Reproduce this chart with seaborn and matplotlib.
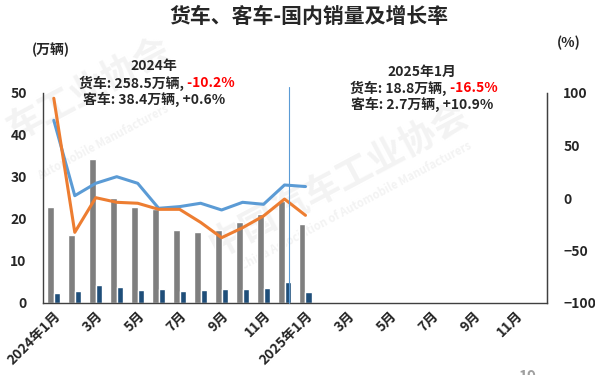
import pandas as pd
import numpy as np
import matplotlib
matplotlib.use('Agg')
import matplotlib.pyplot as plt
import seaborn as sns

# 2024-01 .. 2025-12 (only 2024-01 .. 2025-01 have data)
months = [f'{y}-{m:02d}' for y in (2024, 2025) for m in range(1, 13)]
tick_labels = ['2024年1月', '3月', '5月', '7月', '9月', '11月',
               '2025年1月', '3月', '5月', '7月', '9月', '11月']

truck_sales = [22.8, 16.3, 34.2, 24.9, 22.8, 22.4, 17.3, 17.0, 17.3, 19.2, 21.1, 24.3, 18.8]
bus_sales = [2.5, 2.8, 4.2, 3.7, 3.2, 3.3, 2.8, 3.0, 3.3, 3.3, 3.6, 5.1, 2.7]
truck_growth = [95, -32.7, 0.3, -4.1, -5, -10.8, -10.8, -23.2, -37.8, -28.3, -17.1, -1, -16.5]
bus_growth = [74, 2.2, 14, 20.3, 14, -9.8, -8.2, -5, -11.4, -4.1, -6, 12.4, 10.9]

n = len(truck_sales)
bars = pd.DataFrame({
    'month': months[:n] * 2,
    'sales': truck_sales + bus_sales,
    'kind': ['货车'] * n + ['客车'] * n,
})

sns.set_style('white')
plt.rcParams['font.family'] = ['Noto Sans CJK SC', 'DejaVu Sans']
plt.rcParams['font.weight'] = 'bold'

fig = plt.figure(figsize=(5.95, 3.75), dpi=100)
ax = fig.add_axes([0.0728, 0.192, 0.846, 0.56])
ax.patch.set_visible(False)

# faint watermark, behind everything
wm = dict(color='#f3f3f3', rotation=28, ha='left', va='center', zorder=-10)
fig.text(0.0, 0.76, '车工业协会', fontsize=26, **wm)
fig.text(0.34, 0.52, '中国汽车工业协会', fontsize=26, **wm)
fig.text(0.40, 0.45, 'China Association of Automobile Manufacturers', fontsize=8, **wm)
fig.text(0.06, 0.62, 'Automobile Manufacturers', fontsize=8, **wm)

sns.barplot(data=bars, x='month', y='sales', hue='kind', order=months,
            hue_order=['货车', '客车'], palette=['#7f7f7f', '#1f4e79'],
            width=0.62, saturation=1, legend=False, ax=ax)
ax.set_ylim(0, 50)
ax.set_xlim(-0.5, 23.5)
ax.set_yticks(range(0, 51, 10))
ax.set_xticks(range(0, 24, 2))
ax.set_xticklabels(tick_labels, rotation=45, ha='right', rotation_mode='anchor')
ax.set_xlabel('')
ax.set_ylabel('')
ax.tick_params(axis='both', length=0, labelsize=10, pad=4)
ax.tick_params(axis='y', pad=12)
for s in ['left', 'bottom', 'right']:
    ax.spines[s].set_color('#404040')
    ax.spines[s].set_linewidth(1)
ax.spines['top'].set_visible(False)

ax2 = ax.twinx()
x = list(range(n))
sns.lineplot(x=x, y=bus_growth, color='#5b9bd5', linewidth=2.2, ax=ax2)
sns.lineplot(x=x, y=truck_growth, color='#ed7d31', linewidth=2.2, ax=ax2)
ax2.set_ylim(-100, 100)
ax2.set_yticks(range(-100, 101, 50))
ax2.tick_params(axis='y', length=0, labelsize=10, pad=12)
ax2.spines['top'].set_visible(False)
ax2.spines['left'].set_visible(False)
ax2.spines['bottom'].set_visible(False)
ax2.spines['right'].set_color('#404040')
ax2.axvline(11.2, ymin=0, ymax=1.03, color='#5b9bd5', linewidth=0.8, clip_on=False)

for lab in ax.get_xticklabels() + ax.get_yticklabels() + ax2.get_yticklabels():
    lab.set_fontweight('bold')

fig.text(0.52, 0.957, '货车、客车-国内销量及增长率', fontsize=15, fontweight='bold',
         ha='center', va='center')
fig.text(0.085, 0.867, '(万辆)', fontsize=10, fontweight='bold', ha='center', va='center')
fig.text(0.956, 0.885, '(%)', fontsize=10, fontweight='bold', ha='center', va='center')

# annotations
def note(cx, split, ys, head, black, red, bus_line):
    fig.text(cx / 595, 1 - ys[0] / 375, head, fontsize=10, fontweight='bold',
             ha='center', va='center')
    fig.text(split / 595, 1 - ys[1] / 375, black, fontsize=10, fontweight='bold',
             ha='right', va='center')
    fig.text(split / 595, 1 - ys[1] / 375, red, fontsize=10, fontweight='bold',
             color='#ff0000', ha='left', va='center')
    fig.text(cx / 595, 1 - ys[2] / 375, bus_line, fontsize=10, fontweight='bold',
             ha='center', va='center')

note(154, 184, (66, 83, 99), '2024年', '货车: 258.5万辆,', ' -10.2%', '客车: 38.4万辆, +0.6%')
note(422, 447, (72, 88, 104), '2025年1月', '货车: 18.8万辆,', ' -16.5%', '客车: 2.7万辆, +10.9%')

fig.text(0.872, -0.005, '19', fontsize=11, color='#a0a0a0', ha='left', va='center')

plt.savefig('out.png', dpi=100)
